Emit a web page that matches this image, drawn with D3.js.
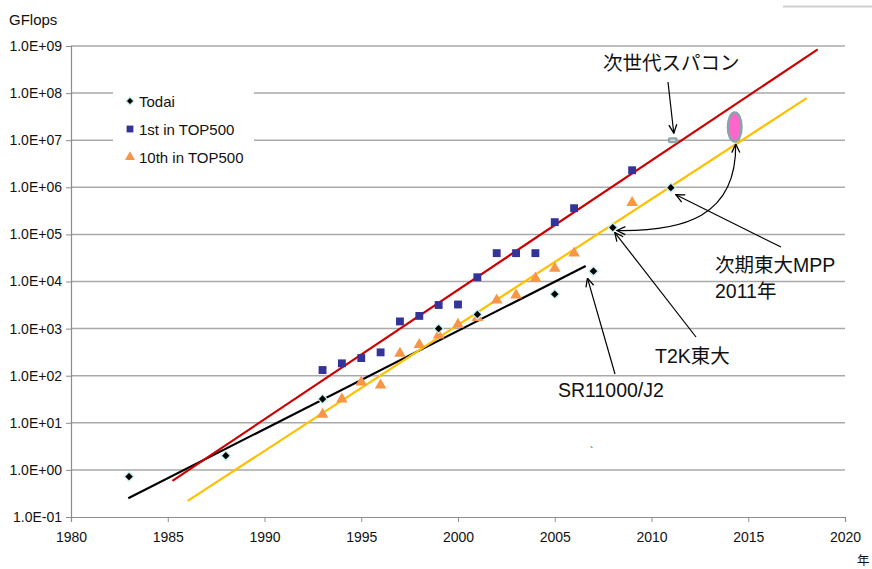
<!DOCTYPE html>
<html>
<head>
<meta charset="utf-8">
<script src="https://cdn.jsdelivr.net/npm/d3@7"></script>
<style>
  body { margin: 0; background: #fff; }
  text { font-family: "Liberation Sans", Arial, sans-serif; fill: #111; }
</style>
</head>
<body>
<svg id="chart" width="872" height="569"></svg>
<script>
// ---- data -------------------------------------------------------------
const todaiYears  = [1983, 1988, 1993, 1999, 2001, 2005, 2007, 2008, 2011];
const todaiGflops = [0.72, 2.0, 32, 1000, 2000, 5400, 16600, 140000, 980000];

const top1Years  = [1993, 1994, 1995, 1996, 1997, 1998, 1999, 2000, 2001, 2002, 2003, 2004, 2005, 2006, 2009];
const top1Gflops = [132, 183, 237, 313, 1420, 1860, 3170, 3250, 12300, 40000, 40000, 40000, 182000, 360000, 2300000];

const top10Years  = [1993, 1994, 1995, 1996, 1997, 1998, 1999, 2000, 2001, 2002, 2003, 2004, 2005, 2006, 2009];
const top10Gflops = [15, 31.6, 73, 63, 297, 455, 730, 1230, 1700, 4000, 5100, 11700, 19000, 40000, 470000];

// exponential trend lines: [year, GFlops] end points
const trendTop1  = [[1985.24, 0.585], [2018.59, 8.5e8]];
const trendTop10 = [[1986.03, 0.22], [2018.02, 7.85e7]];
const trendTodai = [[1982.96, 0.25], [2006.6, 21400]];

const nextGenSystem = [2011.1, 1.0e7];     // 次世代スパコン
const futureTarget  = [2014.3, 1.9e7];     // highlighted target region

const yTickValues = [0.1, 1, 10, 100, 1e3, 1e4, 1e5, 1e6, 1e7, 1e8, 1e9];
const xTickValues = [1980, 1985, 1990, 1995, 2000, 2005, 2010, 2015, 2020];

const legendItems = [
  { label: "Todai", shape: "diamond" },
  { label: "1st in TOP500", shape: "square" },
  { label: "10th in TOP500", shape: "triangle" }
];

// ---- setup ------------------------------------------------------------
const svg = d3.select("#chart");
const x = d3.scaleLinear().domain([1980, 2020]).range([71, 845]);
const y = d3.scaleLog().domain([0.1, 1e9]).range([517, 46]);

const colors = {
  grid: "#a9a9a9", axis: "#8c8c8c",
  red: "#cc0000", gold: "#ffc000", black: "#000",
  square: "#333399", triangle: "#f79646"
};
const font = "'Liberation Sans', Arial, 'Noto Sans CJK JP', sans-serif";

const expFmt = v => {
  const e = Math.round(Math.log10(v));
  return "1.0E" + (e < 0 ? "-" : "+") + String(Math.abs(e)).padStart(2, "0");
};

// top-right rule
svg.append("line").attr("x1", 783).attr("x2", 872).attr("y1", 6.5).attr("y2", 6.5)
  .attr("stroke", "#cfcfcf").attr("stroke-width", 2);

// gridlines
svg.append("g").selectAll("line").data(yTickValues.slice(1)).join("line")
  .attr("x1", x(1980)).attr("x2", x(2020))
  .attr("y1", d => y(d)).attr("y2", d => y(d))
  .attr("stroke", colors.grid).attr("stroke-width", 1.5);

// y axis
const yAxis = svg.append("g").attr("transform", `translate(${x(1980)},0)`)
  .call(d3.axisLeft(y).tickValues(yTickValues).tickFormat(expFmt).tickSize(5).tickPadding(4));
yAxis.attr("font-family", null).attr("font-size", null);
yAxis.select(".domain").attr("stroke", colors.axis).attr("stroke-width", 1.2);
yAxis.selectAll(".tick line").attr("stroke", colors.axis);
yAxis.selectAll("text").attr("font-size", 14).attr("fill", "#111").style("font-family", font);

// x axis
const xAxis = svg.append("g").attr("transform", `translate(0,${y(0.1)})`)
  .call(d3.axisBottom(x).tickValues(xTickValues).tickFormat(d3.format("d")).tickSize(5).tickPadding(10));
xAxis.attr("font-family", null).attr("font-size", null);
xAxis.select(".domain").attr("stroke", colors.axis).attr("stroke-width", 1.2);
xAxis.selectAll(".tick line").attr("stroke", colors.axis);
xAxis.selectAll("text").attr("font-size", 14).attr("fill", "#111").style("font-family", font);

// axis titles
svg.append("text").attr("x", 9).attr("y", 25).attr("font-size", 15).style("font-family", font).text("GFlops");
svg.append("text").attr("x", 857).attr("y", 565).attr("font-size", 12.5).style("font-family", font).text("年");

// legend (white box over the gridlines)
svg.append("rect").attr("x", 113).attr("y", 86).attr("width", 141).attr("height", 84).attr("fill", "#fff");

const diamondPath = r => `M0,${-r}L${r},0L0,${r}L${-r},0Z`;
const sym = {
  square: d3.symbol().type(d3.symbolSquare),
  triangle: d3.symbol().type(d3.symbolTriangle)
};
function drawMarker(sel, shape, scale = 1) {
  if (shape === "diamond") {
    sel.attr("d", diamondPath(4.6 * Math.sqrt(scale))).attr("fill", "#000")
      .attr("stroke", "#c4eef0").attr("stroke-width", 1.3);
  } else if (shape === "square") {
    sel.attr("d", sym.square.size(62 * scale)()).attr("fill", colors.square);
  } else {
    sel.attr("d", sym.triangle.size(58 * scale)()).attr("fill", colors.triangle);
  }
}

const legend = svg.append("g");
legendItems.forEach((it, i) => {
  const cy = 101 + i * 28;
  legend.append("path").attr("transform", `translate(130,${cy})`).call(drawMarker, it.shape, 0.75);
  legend.append("text").attr("x", 139).attr("y", cy + 5.5).attr("font-size", 15)
    .style("font-family", font).text(it.label);
});

// trend lines
const line = d3.line().x(d => x(d[0])).y(d => y(d[1]));
[[trendTodai, colors.black], [trendTop10, colors.gold], [trendTop1, colors.red]].forEach(([pts, c]) => {
  svg.append("path").attr("d", line(pts)).attr("fill", "none").attr("stroke", c).attr("stroke-width", 2.2);
});

// markers
const seriesList = [
  { years: top10Years, vals: top10Gflops, shape: "triangle" },
  { years: top1Years, vals: top1Gflops, shape: "square" },
  { years: todaiYears, vals: todaiGflops, shape: "diamond" }
];
seriesList.forEach(s => {
  svg.append("g").selectAll("path").data(s.years.map((yr, i) => [yr, s.vals[i]])).join("path")
    .attr("transform", d => `translate(${x(d[0])},${y(d[1])})`)
    .call(drawMarker, s.shape);
});

// next-generation system marker
const ng = [x(nextGenSystem[0]), y(nextGenSystem[1])];
svg.append("rect").attr("x", ng[0] - 5).attr("y", ng[1] - 3).attr("width", 10).attr("height", 6)
  .attr("rx", 2).attr("fill", "#93a7ab");
svg.append("line").attr("x1", ng[0] - 2.5).attr("x2", ng[0] + 2.5).attr("y1", ng[1]).attr("y2", ng[1])
  .attr("stroke", "#dfe8ea").attr("stroke-width", 1.2);

// target ellipse
const ft = [x(futureTarget[0]), y(futureTarget[1])];
svg.append("ellipse").attr("cx", ft[0]).attr("cy", ft[1]).attr("rx", 6.8).attr("ry", 14.5)
  .attr("fill", "#ff66cc").attr("stroke", "#8aa4a8").attr("stroke-width", 2.5);

// arrow markers
const defs = svg.append("defs");
defs.append("marker").attr("id", "arr").attr("viewBox", "0 0 10 10")
  .attr("refX", 9.5).attr("refY", 5).attr("markerWidth", 10).attr("markerHeight", 10)
  .attr("markerUnits", "userSpaceOnUse").attr("orient", "auto-start-reverse")
  .append("path").attr("d", "M1,1 L9.5,5 L1,9").attr("fill", "none").attr("stroke", "#000").attr("stroke-width", 1.3);

function arrow(x1, y1, x2, y2) {
  svg.append("line").attr("x1", x1).attr("y1", y1).attr("x2", x2).attr("y2", y2)
    .attr("stroke", "#000").attr("stroke-width", 1.2).attr("marker-end", "url(#arr)");
}

// T2K, next Todai MPP and SR11000 positions
const t2k = [x(2008), y(140000)];
const mpp = [x(2011), y(980000)];
const sr = [x(2007), y(16600)];

// curved double-headed arrow T2K -> target
svg.append("path")
  .attr("d", `M${t2k[0] + 4},${t2k[1] + 3} C${t2k[0] + 70},${t2k[1] + 4} ${ft[0] + 2},${t2k[1] - 10} ${ft[0] + 1},${ft[1] + 17}`)
  .attr("fill", "none").attr("stroke", "#000").attr("stroke-width", 1.2)
  .attr("marker-start", "url(#arr)").attr("marker-end", "url(#arr)");

arrow(668, 82, ng[0] + 1, ng[1] - 7);              // 次世代スパコン
arrow(781, 247, mpp[0] + 5, mpp[1] + 7);           // 次期東大MPP
arrow(696, 337, t2k[0] + 2, t2k[1] + 5);           // T2K東大
arrow(615, 374, sr[0] - 6, sr[1] + 7);             // SR11000/J2

// annotation labels
const ann = [
  { t: "次世代スパコン", x: 603, y: 70 },
  { t: "次期東大MPP", x: 715, y: 272 },
  { t: "2011年", x: 715, y: 298 },
  { t: "T2K東大", x: 655, y: 363 },
  { t: "SR11000/J2", x: 558, y: 397 }
];
svg.append("g").selectAll("text").data(ann).join("text")
  .attr("x", d => d.x).attr("y", d => d.y).attr("font-size", 19.5)
  .style("font-family", font)
  .text(d => d.t);

// stray tick mark
svg.append("text").attr("x", 590).attr("y", 455).attr("font-size", 10).style("font-family", font).text("`");
</script>
</body>
</html>
